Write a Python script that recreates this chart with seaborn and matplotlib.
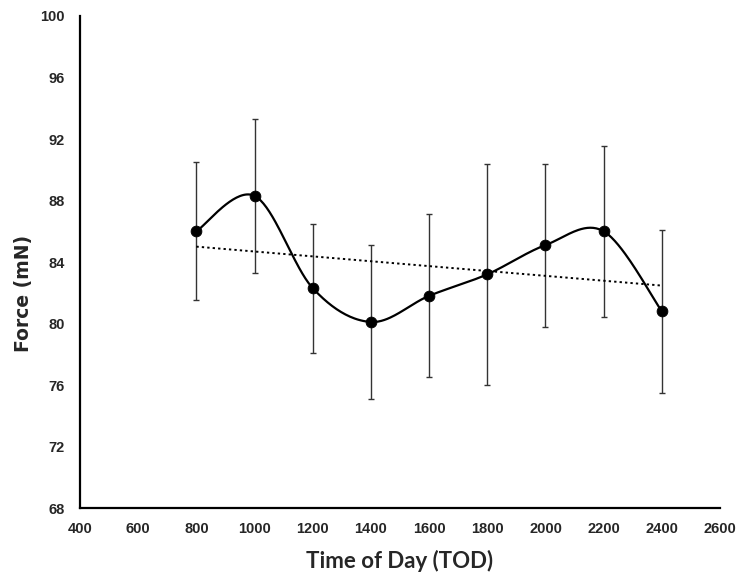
import numpy as np
import pandas as pd
import matplotlib
matplotlib.use("Agg")
import matplotlib.pyplot as plt
import seaborn as sns
from matplotlib.ticker import MultipleLocator

# Data
tod = [800, 1000, 1200, 1400, 1600, 1800, 2000, 2200, 2400]
force = [86.0, 88.3, 82.3, 80.1, 81.8, 83.2, 85.1, 86.0, 80.8]
err = [4.5, 5.0, 4.2, 5.0, 5.3, 7.2, 5.3, 5.55, 5.3]

df = pd.DataFrame({"TOD": tod, "Force": force, "SD": err})


# Excel-like smoothed line (Catmull-Rom style bezier through the points)
def smooth_curve(xs, ys, n=40):
    xs = np.asarray(xs, float)
    ys = np.asarray(ys, float)
    px = np.concatenate([[xs[0]], xs, [xs[-1]]])
    py = np.concatenate([[ys[0]], ys, [ys[-1]]])
    out_x, out_y = [], []
    t = np.linspace(0, 1, n)
    for i in range(1, len(px) - 2):
        x0, x1, x2, x3 = px[i - 1], px[i], px[i + 1], px[i + 2]
        y0, y1, y2, y3 = py[i - 1], py[i], py[i + 1], py[i + 2]
        c1x, c1y = x1 + (x2 - x0) / 6, y1 + (y2 - y0) / 6
        c2x, c2y = x2 - (x3 - x1) / 6, y2 - (y3 - y1) / 6
        bx = (1 - t) ** 3 * x1 + 3 * (1 - t) ** 2 * t * c1x + 3 * (1 - t) * t ** 2 * c2x + t ** 3 * x2
        by = (1 - t) ** 3 * y1 + 3 * (1 - t) ** 2 * t * c1y + 3 * (1 - t) * t ** 2 * c2y + t ** 3 * y2
        out_x.extend(bx)
        out_y.extend(by)
    return np.array(out_x), np.array(out_y)


sx, sy = smooth_curve(tod, force)
smooth_df = pd.DataFrame({"x": sx, "y": sy})

sns.set_style("white")
plt.rcParams["font.family"] = ["Liberation Sans", "DejaVu Sans"]

fig = plt.figure(figsize=(7.5, 5.88), dpi=100)
ax = fig.add_axes([0.1067, 0.136, 0.8533, 0.8368])

# error bars
ax.errorbar(df["TOD"], df["Force"], yerr=df["SD"], fmt="none",
            ecolor="#333333", elinewidth=1.0, capsize=2.5, capthick=1.0, zorder=2)

# linear trend
sns.regplot(data=df, x="TOD", y="Force", scatter=False, ci=None, ax=ax,
            line_kws={"color": "black", "linestyle": (0, (1.2, 1.6)), "linewidth": 1.4, "zorder": 3})

# smooth line + markers
ax.plot(smooth_df["x"], smooth_df["y"], color="black", linewidth=1.6, zorder=4)
sns.scatterplot(data=df, x="TOD", y="Force", color="black", s=60, edgecolor="black",
                ax=ax, zorder=5)

ax.set_xlim(400, 2600)
ax.set_ylim(68, 100)
ax.xaxis.set_major_locator(MultipleLocator(200))
ax.yaxis.set_major_locator(MultipleLocator(4))
ax.yaxis.set_minor_locator(MultipleLocator(2))

for side in ["top", "right"]:
    ax.spines[side].set_visible(False)
for side in ["left", "bottom"]:
    ax.spines[side].set_color("black")
    ax.spines[side].set_linewidth(1.6)

ax.tick_params(axis="x", which="major", direction="in", length=5, width=1.4,
               labelsize=10.5, pad=10)
ax.tick_params(axis="y", which="major", direction="inout", length=6, width=1.4,
               labelsize=10.5, pad=8)
ax.tick_params(axis="y", which="minor", direction="in", length=3, width=1.2)
for lab in ax.get_xticklabels() + ax.get_yticklabels():
    lab.set_fontweight("bold")

ax.set_xlabel("Time of Day (TOD)", fontsize=16, fontweight="bold", labelpad=10,
              family=["Lato", "DejaVu Sans"])
ax.set_ylabel("Force (mN)", fontsize=13.5, fontweight="bold",
              family=["DejaVu Sans"])
ax.yaxis.set_label_coords(-0.073, 0.437)

fig.savefig("out.png", dpi=100, facecolor="white")
